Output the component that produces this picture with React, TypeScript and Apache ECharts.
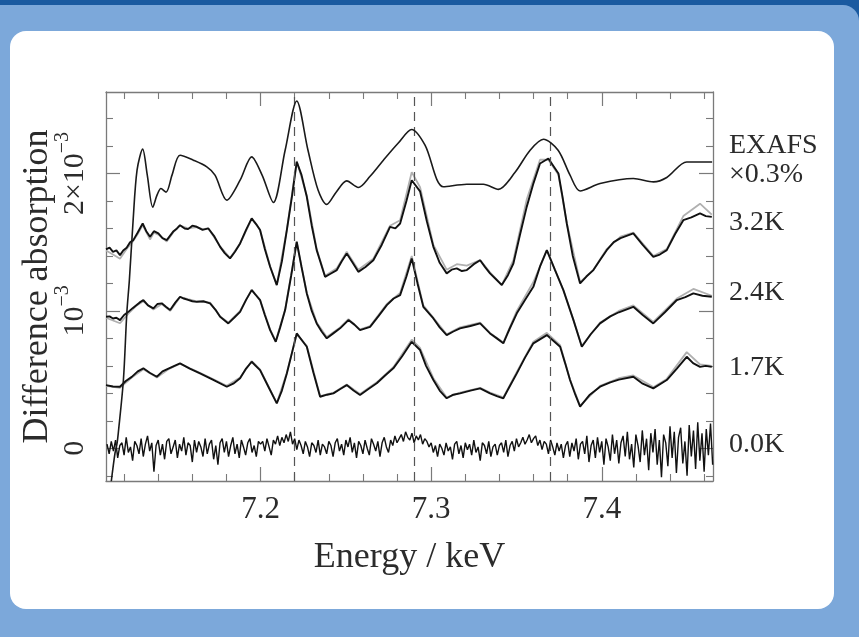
import React, { useEffect, useRef } from "react";
import * as echarts from "echarts";

// Axis extents (energy in keV, difference absorption in units of 10^-3)
const X_MIN = 7.1094;
const X_MAX = 7.4652;
const Y_MIN = -0.238;
const Y_MAX = 2.593;

const X_MAJOR = [7.2, 7.3, 7.4];
const X_MINOR = [7.12, 7.14, 7.16, 7.18, 7.22, 7.24, 7.26, 7.28, 7.32, 7.34, 7.36, 7.38, 7.42, 7.44, 7.46];
const Y_MAJOR = [0, 1, 2];
const Y_MINOR = [-0.2, 0.2, 0.4, 0.6, 0.8, 1.2, 1.4, 1.6, 1.8, 2.2, 2.4];

// Peak positions marked with dashed guides
const PEAKS = [7.2212, 7.2886, 7.3668];

// EXAFS reference spectrum (scaled x0.3%)
const exafs: [number, number][] = [
  [7.1125, -0.24], [7.1147, -0.034], [7.1158, 0.03], [7.1166, 0.111], [7.1196, 0.497],
  [7.1216, 0.984], [7.1231, 1.224], [7.1253, 1.66], [7.1276, 2.025], [7.1309, 2.177],
  [7.1336, 1.988], [7.1368, 1.755], [7.1393, 1.842], [7.1416, 1.891], [7.1446, 1.864],
  [7.1481, 1.988], [7.1528, 2.133], [7.1606, 2.097], [7.1685, 2.048], [7.1733, 1.988],
  [7.1802, 1.806], [7.188, 1.951], [7.1948, 2.121], [7.2009, 1.988], [7.2075, 1.789],
  [7.2144, 2.169], [7.2212, 2.528], [7.2278, 2.169], [7.2337, 1.879], [7.2388, 1.775],
  [7.2443, 1.864], [7.2505, 1.946], [7.2573, 1.898], [7.2642, 1.98], [7.272, 2.097],
  [7.2806, 2.22], [7.2886, 2.32], [7.2964, 2.206], [7.3072, 1.903], [7.3209, 1.922],
  [7.3306, 1.922], [7.3394, 1.884], [7.3492, 2.009], [7.358, 2.169], [7.3658, 2.249],
  [7.3744, 2.169], [7.3814, 1.988], [7.3873, 1.873], [7.399, 1.927], [7.4185, 1.964],
  [7.4303, 1.939], [7.4381, 1.971], [7.4498, 2.084], [7.4647, 2.084],
];

// 3.2K difference spectrum
const k32: [number, number][] = [
  [7.1094, 1.447], [7.1115, 1.46], [7.1135, 1.43], [7.1155, 1.44], [7.1176, 1.406],
  [7.1195, 1.44], [7.1215, 1.46], [7.1235, 1.5], [7.1254, 1.515], [7.128, 1.57],
  [7.1309, 1.636], [7.133, 1.58], [7.1352, 1.539], [7.1375, 1.58], [7.1401, 1.564],
  [7.1425, 1.53], [7.145, 1.515], [7.149, 1.58], [7.151, 1.6], [7.1528, 1.624],
  [7.1555, 1.6], [7.1575, 1.595], [7.16, 1.62], [7.1626, 1.612], [7.166, 1.59],
  [7.1694, 1.6], [7.173, 1.54], [7.1763, 1.466], [7.179, 1.42], [7.1821, 1.382],
  [7.185, 1.43], [7.188, 1.491], [7.1915, 1.59], [7.1948, 1.673], [7.1975, 1.63],
  [7.1997, 1.588], [7.2025, 1.45], [7.2056, 1.321], [7.2095, 1.188], [7.2125, 1.36],
  [7.2154, 1.588], [7.2185, 1.84], [7.2212, 2.084], [7.224, 1.99], [7.2271, 1.83],
  [7.23, 1.62], [7.2329, 1.442], [7.2378, 1.248], [7.241, 1.27], [7.2447, 1.297],
  [7.2475, 1.36], [7.2505, 1.418], [7.254, 1.35], [7.2573, 1.284], [7.2615, 1.32],
  [7.2661, 1.369], [7.271, 1.48], [7.2759, 1.612], [7.279, 1.6], [7.2818, 1.636],
  [7.2855, 1.8], [7.2886, 1.951], [7.2935, 1.87], [7.2975, 1.65], [7.3013, 1.466],
  [7.305, 1.35], [7.3091, 1.273], [7.312, 1.3], [7.315, 1.309], [7.318, 1.29],
  [7.3209, 1.297], [7.325, 1.34], [7.3287, 1.369], [7.3315, 1.32], [7.3345, 1.273],
  [7.338, 1.23], [7.3414, 1.188], [7.345, 1.26], [7.3482, 1.345], [7.352, 1.55],
  [7.356, 1.757], [7.36, 1.93], [7.3638, 2.073], [7.3687, 2.109], [7.3746, 2.0],
  [7.377, 1.83], [7.3795, 1.636], [7.383, 1.4], [7.3873, 1.2], [7.391, 1.25],
  [7.3951, 1.297], [7.399, 1.37], [7.4029, 1.442], [7.407, 1.5], [7.411, 1.53],
  [7.4185, 1.564], [7.424, 1.48], [7.4302, 1.393], [7.434, 1.41], [7.4381, 1.442],
  [7.443, 1.56], [7.4478, 1.66], [7.4525, 1.68], [7.4576, 1.709], [7.461, 1.69],
  [7.4645, 1.684],
];
const k32Grey: [number, number][] = [
  [7.1094, 1.44], [7.1135, 1.41], [7.1176, 1.38], [7.1215, 1.45], [7.1254, 1.51],
  [7.128, 1.56], [7.1309, 1.625], [7.1352, 1.52], [7.1375, 1.57], [7.1401, 1.555],
  [7.145, 1.505], [7.149, 1.575], [7.1528, 1.62], [7.1575, 1.6], [7.1626, 1.61],
  [7.166, 1.595], [7.1694, 1.6], [7.1763, 1.47], [7.1821, 1.385], [7.188, 1.49],
  [7.1948, 1.67], [7.1997, 1.59], [7.2056, 1.325], [7.2095, 1.19], [7.2154, 1.59],
  [7.2212, 2.09], [7.2271, 1.84], [7.2329, 1.45], [7.2378, 1.255], [7.2447, 1.31],
  [7.2505, 1.43], [7.2573, 1.3], [7.2661, 1.38], [7.2759, 1.62], [7.2818, 1.66],
  [7.2886, 2.01], [7.2935, 1.9], [7.3013, 1.48], [7.3091, 1.3], [7.315, 1.34],
  [7.3209, 1.33], [7.3287, 1.37], [7.3345, 1.28], [7.3414, 1.19], [7.3482, 1.37],
  [7.356, 1.81], [7.3638, 2.1], [7.3687, 2.1], [7.3746, 1.99], [7.3795, 1.64],
  [7.3873, 1.21], [7.3951, 1.3], [7.4029, 1.45], [7.411, 1.54], [7.4185, 1.57],
  [7.4302, 1.4], [7.4381, 1.45], [7.4478, 1.69], [7.4576, 1.78], [7.4645, 1.7],
];

// 2.4K difference spectrum
const k24: [number, number][] = [
  [7.1094, 0.957], [7.1115, 0.96], [7.1135, 0.945], [7.1155, 0.95], [7.1176, 0.933],
  [7.12, 0.97], [7.1225, 0.993], [7.125, 1.02], [7.127, 1.04], [7.129, 1.06],
  [7.1313, 1.079], [7.134, 1.04], [7.1372, 1.018], [7.1395, 1.05], [7.1421, 1.055],
  [7.1445, 1.03], [7.147, 1.006], [7.15, 1.06], [7.1528, 1.103], [7.155, 1.09],
  [7.1575, 1.08], [7.16, 1.07], [7.1626, 1.066], [7.1665, 1.07], [7.1704, 1.055],
  [7.1735, 1.01], [7.1763, 0.957], [7.1811, 0.909], [7.1845, 0.95], [7.188, 0.993],
  [7.1915, 1.08], [7.1948, 1.151], [7.1997, 1.079], [7.2025, 0.97], [7.2056, 0.86],
  [7.2089, 0.775], [7.2115, 0.88], [7.2144, 1.006], [7.218, 1.26], [7.2212, 1.503],
  [7.224, 1.32], [7.2271, 1.127], [7.23, 1.0], [7.2329, 0.909], [7.2358, 0.85],
  [7.2388, 0.8], [7.243, 0.84], [7.2466, 0.873], [7.2515, 0.933], [7.255, 0.9],
  [7.2583, 0.86], [7.2642, 0.884], [7.269, 0.96], [7.274, 1.042], [7.278, 1.09],
  [7.2818, 1.115], [7.2855, 1.25], [7.2886, 1.382], [7.292, 1.2], [7.2954, 1.03],
  [7.3013, 0.945], [7.305, 0.88], [7.3091, 0.824], [7.313, 0.85], [7.3169, 0.873],
  [7.323, 0.89], [7.3287, 0.909], [7.3345, 0.836], [7.3385, 0.8], [7.3423, 0.764],
  [7.346, 0.87], [7.3502, 0.982], [7.355, 1.08], [7.3599, 1.175], [7.364, 1.33],
  [7.3678, 1.442], [7.3725, 1.3], [7.3775, 1.151], [7.3834, 0.933], [7.3883, 0.739],
  [7.3935, 0.83], [7.399, 0.909], [7.405, 0.96], [7.41, 0.99], [7.4185, 1.03],
  [7.424, 0.97], [7.4302, 0.909], [7.437, 0.99], [7.444, 1.079], [7.449, 1.1],
  [7.4537, 1.127], [7.459, 1.11], [7.4645, 1.103],
];
const k24Grey: [number, number][] = [
  [7.1094, 0.95], [7.1135, 0.93], [7.1176, 0.91], [7.1225, 0.98], [7.127, 1.035],
  [7.1313, 1.07], [7.1372, 1.01], [7.1421, 1.05], [7.147, 1.0], [7.1528, 1.1],
  [7.1575, 1.085], [7.1626, 1.07], [7.1704, 1.06], [7.1763, 0.96], [7.1811, 0.915],
  [7.188, 1.0], [7.1948, 1.155], [7.1997, 1.08], [7.2056, 0.865], [7.2089, 0.78],
  [7.2144, 1.01], [7.2212, 1.5], [7.2271, 1.13], [7.2329, 0.915], [7.2388, 0.81],
  [7.2466, 0.88], [7.2515, 0.94], [7.2583, 0.865], [7.2642, 0.89], [7.274, 1.05],
  [7.2818, 1.13], [7.2886, 1.4], [7.2954, 1.04], [7.3013, 0.95], [7.3091, 0.83],
  [7.3169, 0.88], [7.3287, 0.915], [7.3345, 0.84], [7.3423, 0.77], [7.3502, 1.0],
  [7.3599, 1.21], [7.3678, 1.44], [7.3775, 1.15], [7.3834, 0.935], [7.3883, 0.745],
  [7.399, 0.915], [7.41, 1.0], [7.4185, 1.04], [7.4302, 0.92], [7.444, 1.09],
  [7.4537, 1.16], [7.4645, 1.11],
];

// 1.7K difference spectrum
const k17: [number, number][] = [
  [7.1094, 0.46], [7.1135, 0.45], [7.1176, 0.448], [7.121, 0.49], [7.1245, 0.52],
  [7.128, 0.56], [7.1313, 0.582], [7.135, 0.55], [7.1392, 0.521], [7.1425, 0.56],
  [7.146, 0.58], [7.1495, 0.6], [7.1528, 0.618], [7.1585, 0.58], [7.1645, 0.545],
  [7.172, 0.5], [7.1802, 0.448], [7.184, 0.47], [7.188, 0.509], [7.1915, 0.58],
  [7.1948, 0.63], [7.1997, 0.569], [7.2045, 0.45], [7.2095, 0.327], [7.2125, 0.42],
  [7.2154, 0.545], [7.2185, 0.7], [7.2212, 0.836], [7.2271, 0.739], [7.231, 0.55],
  [7.2349, 0.375], [7.239, 0.39], [7.2427, 0.4], [7.2465, 0.43], [7.2505, 0.46],
  [7.2545, 0.42], [7.2583, 0.388], [7.263, 0.43], [7.2681, 0.473], [7.273, 0.53],
  [7.2778, 0.582], [7.283, 0.67], [7.2886, 0.775], [7.2935, 0.715], [7.297, 0.6],
  [7.3013, 0.497], [7.305, 0.42], [7.3091, 0.364], [7.313, 0.39], [7.3169, 0.4],
  [7.323, 0.42], [7.3287, 0.436], [7.3345, 0.4], [7.3385, 0.38], [7.3423, 0.364],
  [7.346, 0.45], [7.3502, 0.545], [7.355, 0.66], [7.3599, 0.764], [7.3678, 0.824],
  [7.3756, 0.739], [7.3785, 0.62], [7.3814, 0.497], [7.3845, 0.39], [7.3873, 0.303],
  [7.393, 0.39], [7.399, 0.448], [7.405, 0.48], [7.41, 0.5], [7.4185, 0.521],
  [7.424, 0.47], [7.4302, 0.436], [7.4381, 0.497], [7.444, 0.58], [7.4498, 0.666],
  [7.4535, 0.62], [7.4576, 0.593], [7.461, 0.6], [7.4645, 0.593],
];
const k17Grey: [number, number][] = [
  [7.1094, 0.455], [7.1176, 0.44], [7.1245, 0.515], [7.1313, 0.575], [7.1392, 0.515],
  [7.146, 0.575], [7.1528, 0.615], [7.1645, 0.55], [7.1802, 0.455], [7.188, 0.515],
  [7.1948, 0.635], [7.1997, 0.575], [7.2095, 0.33], [7.2154, 0.55], [7.2212, 0.83],
  [7.2271, 0.745], [7.2349, 0.38], [7.2427, 0.405], [7.2505, 0.465], [7.2583, 0.395],
  [7.2681, 0.48], [7.2778, 0.59], [7.2886, 0.79], [7.2935, 0.73], [7.3013, 0.51],
  [7.3091, 0.37], [7.3169, 0.405], [7.3287, 0.44], [7.3345, 0.405], [7.3423, 0.37],
  [7.3502, 0.555], [7.3599, 0.775], [7.3678, 0.84], [7.3756, 0.75], [7.3814, 0.5],
  [7.3873, 0.31], [7.399, 0.455], [7.41, 0.51], [7.4185, 0.53], [7.4302, 0.445],
  [7.4381, 0.505], [7.4498, 0.7], [7.4576, 0.61], [7.4645, 0.6],
];

// 0.0K trace, sampled every 1.25 eV from 7.110 keV
const K00_START = 7.11;
const K00_STEP = 0.00125;
const k00Values = [
  // 7.110 - 7.200
  0.03, -0.04, 0.05, -0.02, 0.06, -0.07, 0.02, 0.04, -0.05, 0.08, -0.03, 0.01, -0.09, 0.05, 0.02, -0.04,
  0.07, -0.06, 0.03, 0.09, -0.02, 0.04, -0.17, 0.02, 0.06, -0.05, 0.03, -0.08, 0.05, 0.07, -0.04, 0.01,
  0.06, -0.07, 0.03, -0.02, 0.08, -0.05, 0.04, 0.02, -0.1, 0.06, -0.03, 0.05, 0.01, -0.06, 0.07, -0.04,
  0.03, 0.06, -0.08, 0.02, -0.12, 0.04, 0.07, -0.03, 0.05, -0.06, 0.02, 0.08, -0.04, 0.03, -0.07, 0.06,
  0.01, -0.05, 0.04, 0.07, -0.03, 0.02, -0.06, 0.05, 0.03,
  // 7.201 - 7.240
  0.05, -0.02, 0.07, 0.01, -0.05, 0.06, 0.03, 0.09, 0.02, 0.08, 0.04, 0.1, 0.05, 0.12, 0.03, 0.07,
  -0.01, 0.06, 0.02, -0.04, 0.05, 0.01, -0.06, 0.04, 0.02, -0.03, 0.06, -0.05, 0.03, 0.01, -0.04, 0.05,
  // 7.241 - 7.280
  0.02, -0.06, 0.04, 0.07, -0.02, 0.03, -0.05, 0.06, 0.01, 0.08, -0.03, 0.04, -0.07, 0.05, 0.02, -0.04,
  0.06, 0.0, -0.05, 0.07, 0.03, -0.02, 0.05, -0.06, 0.04, 0.08, 0.01, -0.03, 0.06, 0.02, 0.09, 0.04,
  // 7.281 - 7.300
  0.07, 0.1, 0.05, 0.12, 0.08, 0.06, 0.11, 0.04, 0.09, 0.06, 0.1, 0.03, 0.07, 0.05, 0.01, 0.04,
  // 7.301 - 7.340
  -0.03, 0.02, -0.06, 0.03, 0.0, -0.05, 0.04, -0.02, 0.01, -0.08, 0.03, 0.05, -0.04, 0.02, -0.07, 0.04,
  -0.01, 0.03, -0.05, 0.06, -0.03, 0.01, -0.09, 0.04, 0.02, -0.04, 0.05, -0.06, 0.01, 0.03, -0.05, 0.02,
  // 7.341 - 7.380
  0.04, -0.03, 0.06, -0.06, 0.02, 0.05, -0.02, 0.07, 0.01, 0.04, 0.08, 0.03, 0.06, 0.1, 0.04, 0.07,
  0.09, 0.02, 0.06, -0.01, 0.05, 0.03, -0.04, 0.06, 0.01, -0.05, 0.04, -0.02, 0.03, -0.07, 0.02, 0.05,
  // 7.381 - 7.465
  -0.06, 0.04, -0.02, 0.07, -0.08, 0.03, 0.05, -0.04, 0.09, -0.1, 0.02, 0.06, -0.07, 0.08, -0.03, 0.05,
  -0.12, 0.07, 0.01, -0.09, 0.1, -0.04, 0.06, -0.11, 0.04, 0.09, -0.06, 0.12, -0.08, 0.03, -0.14, 0.1,
  0.02, -0.1, 0.13, -0.05, 0.07, -0.16, 0.11, -0.03, 0.14, -0.12, 0.06, -0.21, 0.1, 0.04, -0.13, 0.16,
  -0.07, 0.12, -0.18, 0.08, 0.15, -0.11, 0.05, -0.2, 0.17, -0.06, 0.13, -0.15, 0.19, -0.09, 0.11, -0.17,
  0.14, -0.05, 0.18, -0.12,
];

const SERIES_LABELS = ["EXAFS", "\u00d70.3%", "3.2K", "2.4K", "1.7K", "0.0K"];
const SERIES_LABEL_Y = [143, 172, 220, 290, 365, 442];

const FONT = "'Liberation Serif', 'Times New Roman', serif";
const TEXT = "#2b2b2b";
const FRAME = "#7a7a7a";

function minorAxis(position: string, values: number[], isX: boolean) {
  return {
    type: "value",
    position,
    min: isX ? X_MIN : Y_MIN,
    max: isX ? X_MAX : Y_MAX,
    axisLine: { show: false, onZero: false },
    axisTick: { show: true, inside: true, length: 7, customValues: values, lineStyle: { color: FRAME, width: 1.1 } },
    axisLabel: { show: false },
    splitLine: { show: false },
  };
}

function majorAxis(position: string, values: number[], isX: boolean, extra: any = null) {
  return {
    type: "value",
    position,
    min: isX ? X_MIN : Y_MIN,
    max: isX ? X_MAX : Y_MAX,
    axisLine: { show: true, onZero: false, lineStyle: { color: FRAME, width: 1.3 } },
    axisTick: { show: true, inside: true, length: 14, customValues: values, lineStyle: { color: FRAME, width: 1.2 } },
    axisLabel: { show: false },
    splitLine: { show: false },
    ...(extra || {}),
  };
}

export default function App() {
  const ref = useRef<HTMLDivElement>(null);

  useEffect(() => {
    if (!ref.current) return;
    const chart = echarts.init(ref.current, undefined, { renderer: "svg" });

    const k00: [number, number][] = k00Values.map((v, i) => [K00_START + i * K00_STEP, v]);

    const line = (data: [number, number][], color: string, width: number, z: number, extra: any = {}) => ({
      type: "line",
      data,
      xAxisIndex: 0,
      yAxisIndex: 0,
      showSymbol: false,
      symbol: "none",
      clip: true,
      z,
      lineStyle: { color, width },
      ...extra,
    });

    const option: any = {
      animation: false,
      backgroundColor: "transparent",
      textStyle: { fontFamily: FONT },
      grid: { left: 106, right: 146, top: 92, bottom: 156, containLabel: false },
      graphic: [
        { type: "rect", z: -30, silent: true, shape: { x: 0, y: 0, width: 859, height: 637 }, style: { fill: "#1a5aa0" } },
        { type: "rect", z: -29, silent: true, shape: { x: 0, y: 5, width: 859, height: 632, r: [0, 16, 0, 0] }, style: { fill: "#7ca8da" } },
        { type: "rect", z: -28, silent: true, shape: { x: 10, y: 31, width: 824, height: 578, r: 16 }, style: { fill: "#ffffff" } },
        ...SERIES_LABELS.map((t, i) => ({
          type: "text",
          z: 10,
          silent: true,
          x: 729,
          y: SERIES_LABEL_Y[i],
          style: { text: t, font: `28px ${FONT}`, fill: TEXT, verticalAlign: "middle", align: "left" },
        })),
      ],
      xAxis: [
        majorAxis("bottom", X_MAJOR, true, {
          name: "Energy / keV",
          nameLocation: "middle",
          nameGap: 56,
          nameTextStyle: { fontSize: 36, fontFamily: FONT, color: TEXT },
          axisLabel: {
            show: true,
            customValues: X_MAJOR,
            margin: 11,
            fontSize: 31,
            fontFamily: FONT,
            color: TEXT,
            formatter: (v: number) => v.toFixed(1),
          },
        }),
        minorAxis("bottom", X_MINOR, true),
        majorAxis("top", X_MAJOR, true),
        minorAxis("top", X_MINOR, true),
      ],
      yAxis: [
        majorAxis("left", Y_MAJOR, false, {
          name: "Difference absorption",
          nameLocation: "middle",
          nameGap: 53,
          nameRotate: 90,
          nameMoveOverlap: false,
          nameTextStyle: { fontSize: 36, fontFamily: FONT, color: TEXT },
          axisLabel: {
            show: true,
            customValues: Y_MAJOR,
            rotate: 90,
            margin: 19,
            fontSize: 30,
            fontFamily: FONT,
            color: TEXT,
            formatter: (v: number) => {
              const r = Math.round(v);
              if (r === 0) return "{b|0}";
              if (r === 1) return "{b|10}{s|\u22123}";
              return "{b|2\u00d710}{s|\u22123}";
            },
            rich: {
              b: { fontSize: 30, fontFamily: FONT, color: TEXT, lineHeight: 36, verticalAlign: "bottom" },
              s: { fontSize: 20, fontFamily: FONT, color: TEXT, lineHeight: 36, verticalAlign: "top" },
            },
          },
        }),
        minorAxis("left", Y_MINOR, false),
        majorAxis("right", Y_MAJOR, false),
        minorAxis("right", Y_MINOR, false),
      ],
      series: [
        line(exafs, "#1a1a1a", 1.6, 5, {
          smooth: 0.3,
          markLine: {
            silent: true,
            symbol: ["none", "none"],
            label: { show: false },
            lineStyle: { color: "#555", width: 1.2, type: [9, 6] },
            data: PEAKS.map((p) => ({ xAxis: p })),
          },
        }),
        line(k32Grey, "#b0b0b0", 1.8, 3),
        line(k32, "#111", 1.9, 4),
        line(k24Grey, "#b0b0b0", 1.8, 3),
        line(k24, "#111", 1.9, 4),
        line(k17Grey, "#b0b0b0", 1.8, 3),
        line(k17, "#111", 1.9, 4),
        line(k00, "#111", 1.4, 4),
      ],
    };

    chart.setOption(option);
    return () => chart.dispose();
  }, []);

  return (
    <div
      ref={ref}
      style={{ position: "fixed", left: 0, top: 0, width: 859, height: 637 }}
    />
  );
}
